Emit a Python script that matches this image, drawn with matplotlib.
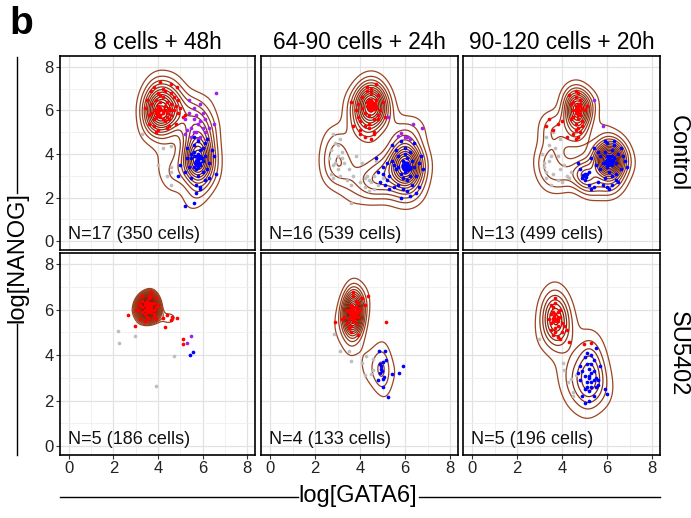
import numpy as np
import matplotlib
matplotlib.use("Agg")
import matplotlib.pyplot as plt
from matplotlib.colors import LinearSegmentedColormap
from matplotlib.lines import Line2D

plt.rcParams['font.family'] = ['Liberation Sans', 'DejaVu Sans']

COL_TITLES = ["8 cells + 48h", "64-90 cells + 24h", "90-120 cells + 20h"]
ROW_LABELS = ["Control", "SU5402"]
N_EMBRYOS = [17, 16, 13, 5, 4, 5]
N_CELLS = [350, 539, 499, 186, 133, 196]
TICKS = [0, 2, 4, 6, 8]

# ---- panel 1: Control, 8 cells + 48h
P1_RED_X = [3.4, 3.6, 3.7, 3.8, 3.9, 3.9, 4.0, 4.0, 4.1, 4.1, 4.2, 4.2, 4.3, 4.3, 4.4, 4.4, 4.5, 4.5,
            4.6, 4.6, 4.7, 4.8, 4.9, 5.0, 5.1, 3.5, 3.7, 3.8, 4.0, 4.2, 4.4, 4.6, 4.8, 3.6, 3.9, 4.1,
            4.3, 4.5, 4.7, 4.9, 3.8, 4.0, 4.2, 4.4, 4.3, 4.1, 4.5, 5.2, 3.9, 4.6, 4.1, 4.6, 4.85,
            3.9, 4.0, 4.1, 3.8, 4.0, 4.2, 3.9, 4.1, 4.0, 3.7, 4.3, 4.0]
P1_RED_Y = [6.1, 5.8, 6.3, 5.6, 6.0, 6.5, 5.9, 6.2, 6.4, 5.7, 6.0, 6.6, 5.5, 6.2, 5.9, 6.4, 6.1, 5.6,
            6.3, 5.8, 6.0, 6.2, 5.9, 6.1, 5.7, 6.5, 6.9, 5.3, 5.1, 7.0, 5.2, 6.8, 5.4, 5.4, 5.0, 6.7,
            6.9, 5.3, 6.6, 6.5, 7.1, 6.8, 5.6, 5.7, 6.0, 6.1, 6.0, 5.8, 5.9, 6.0, 7.3, 7.2, 7.1,
            5.9, 5.8, 6.0, 6.0, 6.1, 5.9, 5.7, 5.8, 5.95, 5.9, 6.0, 6.2]
P1_PUR_X = [5.2, 5.4, 5.5, 5.6, 5.7, 5.8, 5.9, 6.0, 6.1, 6.2, 5.3, 5.5, 5.7, 5.9, 6.1, 6.3, 5.6, 5.8,
            6.0, 5.4, 5.9, 6.5, 6.6, 5.2, 5.6]
P1_PUR_Y = [5.6, 5.9, 5.2, 5.6, 5.0, 5.4, 4.8, 5.2, 5.0, 4.7, 5.1, 4.8, 5.8, 5.5, 5.6, 5.2, 6.1, 4.7,
            5.9, 6.5, 6.3, 5.4, 6.8, 4.9, 5.0]
P1_BLU_X = [5.5, 5.6, 5.7, 5.8, 5.9, 6.0, 5.7, 5.8, 5.9, 5.6, 5.8, 6.0, 6.1, 6.2, 5.4, 5.3, 5.2, 5.0,
            4.9, 5.5, 5.7, 5.9, 6.1, 6.3, 6.4, 6.5, 6.6, 5.6, 5.8, 6.0, 5.7, 5.9, 5.8, 6.2, 5.5, 6.1,
            5.3, 5.6, 6.3, 5.9, 5.2, 5.6, 5.7, 5.8, 5.6, 5.9,
            5.7, 5.8, 5.9, 5.75, 5.85, 5.7, 5.8, 5.65, 5.95, 5.8]
P1_BLU_Y = [3.8, 4.1, 3.6, 3.9, 4.2, 3.7, 3.3, 3.0, 3.5, 4.4, 4.6, 4.3, 3.9, 3.3, 3.4, 3.8, 3.2, 3.5,
            3.0, 2.9, 2.6, 2.5, 2.8, 3.6, 4.2, 3.9, 3.1, 4.8, 4.0, 3.2, 2.2, 2.4, 3.6, 4.7, 4.0, 4.5,
            4.3, 3.4, 2.9, 3.9, 1.6, 1.75, 3.7, 3.5, 3.9, 3.8,
            3.7, 3.8, 3.6, 3.5, 3.9, 3.9, 3.4, 3.6, 3.8, 3.75]
P1_GRY_X = [3.3, 4.2, 4.6, 4.0, 4.6, 4.6, 4.6, 4.4]
P1_GRY_Y = [4.9, 4.3, 4.35, 3.5, 3.4, 3.2, 2.6, 3.0]

# ---- panel 2: Control, 64-90 cells + 24h
P2_RED_X = [4.3, 4.4, 4.5, 4.6, 4.7, 4.5, 4.4, 4.6, 4.3, 4.8, 4.2, 4.1, 4.0, 3.9, 3.8, 3.7, 4.0, 4.2,
            4.4, 4.6, 4.8, 4.9, 5.0, 4.5, 4.7, 4.3, 4.1, 3.9, 4.4, 4.6, 4.5, 4.2, 4.0, 4.8, 5.1, 3.6,
            4.3, 4.5, 4.7, 4.4, 4.5, 4.6, 4.4,
            4.5, 4.6, 4.5, 4.4, 4.55, 4.65, 4.5, 4.45, 4.6, 4.5, 4.4, 4.7]
P2_RED_Y = [6.2, 6.5, 6.0, 6.3, 6.1, 6.8, 5.8, 5.6, 6.4, 6.7, 5.9, 6.1, 5.5, 5.7, 6.0, 5.3, 5.1, 5.3,
            5.2, 5.0, 5.6, 6.0, 6.4, 7.0, 7.2, 7.1, 6.6, 6.3, 5.4, 4.9, 4.7, 4.8, 4.9, 5.8, 5.7, 6.4,
            6.9, 6.3, 6.5, 6.1, 6.2, 6.2, 6.3,
            6.3, 6.2, 6.1, 6.2, 6.4, 6.35, 6.25, 6.0, 6.05, 6.5, 6.4, 6.2]
P2_PUR_X = [5.25, 6.37, 6.73, 5.7, 6.0, 6.2, 5.83, 6.1]
P2_PUR_Y = [5.7, 5.4, 5.2, 4.85, 4.8, 4.7, 4.95, 4.8]
P2_BLU_X = [6.0, 6.1, 6.2, 5.9, 6.0, 6.1, 5.8, 6.3, 6.4, 5.7, 6.0, 6.2, 5.9, 6.1, 6.5, 6.6, 6.7, 5.5,
            5.6, 5.4, 5.3, 5.2, 5.0, 4.9, 4.8, 5.1, 5.3, 5.5, 5.7, 5.9, 6.1, 6.3, 6.5, 6.2, 5.8, 6.0,
            6.4, 5.6, 5.2, 4.7, 5.0, 5.4, 5.8, 6.6, 6.8, 6.0, 6.2, 5.9, 6.1, 5.7, 6.0, 6.1, 5.9,
            6.0, 6.1, 6.05, 5.95, 6.15, 6.0, 6.1, 5.9, 6.2, 6.05, 6.0, 6.1]
P2_BLU_Y = [3.4, 3.6, 3.3, 3.5, 3.2, 3.8, 3.1, 3.7, 3.4, 3.9, 4.0, 4.1, 2.9, 2.8, 3.0, 3.6, 3.9, 3.5,
            4.2, 4.4, 3.0, 2.8, 3.1, 2.7, 3.2, 2.6, 2.4, 2.5, 2.6, 2.4, 2.3, 2.6, 2.2, 2.1, 2.0, 4.3,
            4.5, 3.3, 3.6, 3.8, 3.4, 3.7, 4.6, 2.5, 3.3, 3.5, 3.0, 3.7, 3.3, 3.4, 3.45, 3.5, 3.4,
            3.45, 3.4, 3.55, 3.3, 3.5, 3.6, 3.25, 3.45, 3.4, 3.35, 3.5, 3.6]
P2_GRY_X = [2.6, 2.7, 2.8, 2.9, 3.0, 3.1, 2.7, 2.8, 3.0, 3.2, 2.9, 3.1, 3.3, 3.5, 3.7, 2.8, 3.0, 3.2,
            3.4, 3.6, 4.0, 4.2, 4.4, 4.6, 4.8, 5.0, 4.3, 4.5, 4.1, 4.7, 4.4, 4.2, 4.6, 3.6, 3.8]
P2_GRY_Y = [3.8, 4.2, 3.5, 4.5, 3.9, 4.7, 3.1, 2.9, 3.3, 4.1, 3.6, 3.0, 3.6, 3.3, 3.0, 4.9, 4.4, 3.8,
            2.8, 2.6, 2.7, 2.5, 2.8, 2.4, 2.6, 2.9, 3.0, 2.7, 3.6, 3.7, 2.3, 2.9, 3.0, 1.75, 3.9]

# ---- panel 3: Control, 90-120 cells + 20h
P3_RED_X = [4.6, 4.7, 4.8, 4.5, 4.9, 4.6, 4.7, 4.8, 4.5, 4.4, 4.9, 5.0, 4.6, 4.7, 4.8, 4.5, 4.6, 4.7,
            4.4, 4.3, 4.6, 4.8, 4.7, 4.5, 5.1, 4.7, 4.9, 4.6, 3.3, 3.6, 3.8, 3.4, 4.0, 4.2, 4.7, 4.6,
            4.7, 4.75, 4.65, 4.8, 4.7, 4.6, 4.75, 4.7]
P3_RED_Y = [6.0, 6.2, 5.8, 6.4, 6.1, 6.6, 6.8, 6.5, 5.7, 6.3, 5.5, 6.0, 5.4, 5.2, 5.0, 4.9, 4.7, 4.8,
            5.6, 6.7, 6.9, 6.3, 5.9, 6.0, 6.2, 5.6, 5.3, 5.1, 5.3, 5.1, 5.4, 5.6, 5.5, 4.8, 6.1, 6.2,
            6.0, 5.9, 6.1, 6.0, 5.8, 5.9, 6.2, 6.3]
P3_PUR_X = [5.4, 5.8]
P3_PUR_Y = [6.5, 5.3]
P3_BLU_X = [6.0, 6.1, 6.2, 6.3, 5.9, 6.0, 6.2, 6.4, 6.5, 6.6, 5.8, 5.7, 6.1, 6.3, 6.0, 6.2, 6.4, 6.6,
            6.8, 6.9, 5.6, 5.5, 5.3, 5.2, 5.0, 4.9, 5.1, 5.0, 4.8, 5.2, 5.4, 5.6, 5.8, 6.0, 6.2, 6.4,
            5.9, 6.1, 6.5, 5.7, 5.4, 5.9, 6.3, 4.7, 5.3, 6.7, 6.1, 6.0, 6.2, 5.0,
            6.1, 6.0, 6.2, 6.15, 6.05, 6.1, 5.95, 6.25, 6.1, 6.0, 6.2, 6.05, 6.15, 6.1, 5.9, 6.3,
            6.0, 6.1, 5.0, 5.05, 4.95, 5.0]
P3_BLU_Y = [3.7, 3.9, 3.5, 3.8, 4.1, 3.4, 4.2, 3.6, 4.0, 3.3, 3.6, 3.9, 3.2, 4.4, 4.5, 3.0, 3.1, 4.3,
            3.7, 3.4, 4.1, 3.5, 3.8, 3.2, 3.0, 2.9, 3.1, 2.8, 3.3, 2.6, 2.5, 2.7, 2.6, 2.5, 2.6, 2.8,
            2.9, 2.4, 2.7, 3.3, 4.3, 4.6, 4.6, 3.6, 2.4, 3.9, 3.7, 3.75, 3.65, 3.0,
            3.7, 3.65, 3.75, 3.6, 3.8, 3.55, 3.7, 3.7, 3.85, 3.5, 3.9, 3.7, 3.65, 3.75, 3.6, 3.8,
            3.9, 3.6, 3.0, 2.95, 3.05, 3.1]
P3_GRY_X = [3.1, 3.2, 3.3, 3.4, 3.5, 3.3, 3.2, 3.6, 3.8, 4.0, 4.2, 4.4, 3.4, 3.7, 3.9, 4.1, 3.5, 3.9,
            4.3, 3.6, 3.3, 3.8]
P3_GRY_Y = [4.0, 3.6, 3.2, 4.4, 3.9, 2.9, 3.4, 3.1, 2.8, 2.7, 3.0, 3.2, 3.7, 4.3, 4.7, 3.5, 2.6, 3.3,
            2.9, 5.0, 4.8, 3.9]

# ---- panel 4: SU5402, 8 cells + 48h
P4_RED_X = [3.3, 3.4, 3.5, 3.6, 3.7, 3.8, 3.5, 3.6, 3.7, 3.4, 3.5, 3.6, 3.7, 3.8, 3.9, 3.3, 3.5, 3.6,
            3.7, 3.4, 3.6, 3.8, 3.5, 3.7, 3.6, 3.2, 3.9, 4.0, 3.1, 3.5, 3.6, 3.7, 3.3, 3.8, 3.6, 3.5,
            3.4, 3.7, 3.6, 3.5, 3.0, 3.2, 3.4, 3.9, 3.1, 3.3,
            2.63, 2.95, 4.24, 4.42, 4.6, 4.87, 4.64, 4.33, 5.13, 5.13]
P4_RED_Y = [6.1, 6.3, 6.0, 6.2, 6.1, 6.0, 6.4, 5.9, 6.3, 5.8, 6.2, 6.5, 5.9, 6.3, 6.1, 6.4, 5.7, 6.0,
            6.6, 6.0, 6.1, 5.8, 6.1, 6.2, 6.3, 6.2, 6.5, 6.2, 6.0, 5.9, 6.6, 6.8, 5.9, 5.7, 5.6, 6.1,
            6.2, 6.0, 6.0, 6.3, 6.0, 5.6, 5.5, 5.6, 6.3, 6.6,
            5.75, 5.3, 5.65, 5.75, 5.55, 5.65, 5.7, 5.25, 4.7, 4.5]
P4_PUR_X = [5.5, 5.3]
P4_PUR_Y = [4.85, 4.55]
P4_BLU_X = [5.58, 5.45]
P4_BLU_Y = [4.15, 4.0]
P4_GRY_X = [2.2, 2.25, 2.95, 4.73, 3.9]
P4_GRY_Y = [5.05, 4.55, 4.85, 3.95, 2.65]

# ---- panel 5: SU5402, 64-90 cells + 24h
P5_RED_X = [3.6, 3.7, 3.8, 3.5, 3.6, 3.7, 3.9, 3.4, 3.6, 3.8, 3.7, 3.5, 3.9, 4.0, 3.3, 3.6, 3.8, 3.7,
            3.5, 4.1, 3.4, 3.6, 3.8, 3.9, 3.7, 3.2, 4.2, 3.6, 4.35, 2.87, 3.9, 5.16,
            3.7, 3.65, 3.75, 3.6, 3.7, 3.8, 3.65, 3.7, 3.75, 3.6, 3.7, 3.68,
            3.7, 3.6, 3.8, 3.65, 3.75, 3.7, 3.55, 3.85, 3.7, 3.65, 3.75, 3.7, 3.6, 3.8, 3.7, 3.68]
P5_RED_Y = [5.8, 5.9, 6.1, 5.6, 6.2, 5.5, 5.7, 6.0, 5.3, 6.4, 6.6, 5.2, 6.3, 6.0, 5.7, 5.0, 5.4, 6.8,
            5.9, 6.5, 5.4, 6.1, 5.8, 5.9, 5.6, 5.6, 6.2, 5.8, 6.6, 5.45, 4.9, 5.45,
            5.8, 5.75, 5.9, 5.85, 5.7, 5.8, 6.0, 5.95, 5.65, 5.7, 6.1, 5.5,
            5.85, 5.8, 5.9, 5.7, 5.75, 6.0, 5.9, 6.05, 5.6, 6.15, 5.8, 5.95, 6.0, 5.7, 5.65, 5.85]
P5_BLU_X = [4.83, 5.1, 5.17, 4.87, 4.92, 4.98, 4.9, 5.07, 5.02, 4.8, 5.04, 5.25, 5.4, 5.73, 5.89, 4.95, 5.0]
P5_BLU_Y = [4.19, 4.19, 3.78, 3.62, 3.53, 3.29, 3.23, 3.05, 2.95, 2.9, 2.6, 2.16, 3.17, 3.2, 3.5, 3.4, 3.7]
P5_GRY_X = [2.86, 3.11, 3.53, 3.6, 4.25, 4.1, 4.57, 4.57, 4.2, 4.5]
P5_GRY_Y = [4.93, 4.18, 4.18, 3.75, 3.95, 3.66, 3.85, 3.34, 3.12, 3.16]

# ---- panel 6: SU5402, 90-120 cells + 20h
P6_RED_X = [3.6, 3.7, 3.8, 3.5, 3.6, 3.7, 3.9, 3.4, 3.6, 3.8, 3.7, 3.5, 3.9, 4.0, 3.6, 3.8, 3.7, 3.5,
            4.1, 3.7, 3.6, 3.8, 4.2, 3.9, 4.3, 3.5, 4.96, 5.29, 4.0, 3.8, 3.7, 3.65, 3.75, 3.7, 3.6, 3.8]
P6_RED_Y = [5.6, 5.8, 5.5, 5.4, 5.9, 5.2, 5.7, 5.6, 6.1, 5.3, 6.3, 5.1, 6.0, 5.4, 5.5, 5.9, 5.0, 5.8,
            5.3, 6.5, 4.9, 4.8, 5.1, 4.7, 4.6, 6.2, 4.5, 4.53, 5.0, 5.6, 5.6, 5.7, 5.5, 5.8, 5.6, 5.7]
P6_BLU_X = [5.2, 5.3, 5.1, 5.0, 5.4, 5.2, 5.3, 5.1, 4.9, 5.5, 5.6, 5.0, 5.2, 5.4, 4.8, 5.3, 5.1, 5.5,
            5.7, 5.9, 6.0, 4.9, 5.2, 5.4, 5.0, 5.3, 4.7, 5.6, 5.1, 5.3, 5.2, 5.4, 5.5, 4.8, 5.0]
P6_BLU_Y = [3.0, 3.2, 2.8, 3.1, 2.9, 3.4, 2.6, 3.6, 3.3, 3.0, 2.7, 2.5, 2.4, 3.8, 2.9, 4.0, 4.1, 4.3,
            3.5, 2.5, 2.3, 2.2, 2.0, 2.2, 3.9, 3.6, 3.2, 2.9, 2.6, 2.8, 3.1, 3.3, 2.6, 3.5, 1.9]
P6_GRY_X = [2.98, 4.03, 4.1, 4.25, 4.47, 4.4, 4.62, 4.47]
P6_GRY_Y = [4.7, 3.64, 3.34, 2.82, 2.38, 2.97, 3.12, 2.19]

PANELS = [
    dict(grey=(P1_GRY_X, P1_GRY_Y), red=(P1_RED_X, P1_RED_Y), purple=(P1_PUR_X, P1_PUR_Y), blue=(P1_BLU_X, P1_BLU_Y)),
    dict(grey=(P2_GRY_X, P2_GRY_Y), red=(P2_RED_X, P2_RED_Y), purple=(P2_PUR_X, P2_PUR_Y), blue=(P2_BLU_X, P2_BLU_Y)),
    dict(grey=(P3_GRY_X, P3_GRY_Y), red=(P3_RED_X, P3_RED_Y), purple=(P3_PUR_X, P3_PUR_Y), blue=(P3_BLU_X, P3_BLU_Y)),
    dict(grey=(P4_GRY_X, P4_GRY_Y), red=(P4_RED_X, P4_RED_Y), purple=(P4_PUR_X, P4_PUR_Y), blue=(P4_BLU_X, P4_BLU_Y)),
    dict(grey=(P5_GRY_X, P5_GRY_Y), red=(P5_RED_X, P5_RED_Y), blue=(P5_BLU_X, P5_BLU_Y)),
    dict(grey=(P6_GRY_X, P6_GRY_Y), red=(P6_RED_X, P6_RED_Y), blue=(P6_BLU_X, P6_BLU_Y)),
]

POINT_COLORS = {"grey": "#BEBEBE", "red": "#FF0000", "purple": "#A020F0", "blue": "#0000FF"}
# contour styling per panel
N_LEVELS = [12, 13, 15, 30, 13, 7]
LEVEL_START = [0.08, 0.07, 0.06, 0.14, 0.08, 0.1]
BW_SCALE = [1.3, 1.3, 1.2, 1.7, 1.3, 1.3]
XLIM = (-0.4, 8.35)
YLIM = (-0.4, 8.5)

contour_cmap = LinearSegmentedColormap.from_list("brown", ["#9C4522", "#6A1500"])


def bandwidth(v, n):
    v = np.asarray(v, dtype=float)
    sd = v.std(ddof=1)
    iqr = np.subtract(*np.percentile(v, [75, 25])) / 1.34
    h = min(sd, iqr) if iqr > 0 else sd
    return 1.06 * h * n ** (-0.2)


def kde(xs, ys, n_cells, scale):
    hx, hy = scale * bandwidth(xs, n_cells), scale * bandwidth(ys, n_cells)
    gx = np.linspace(XLIM[0], XLIM[1], 240)
    gy = np.linspace(YLIM[0], YLIM[1], 240)
    kx = np.exp(-0.5 * ((gx[None, :] - xs[:, None]) / hx) ** 2)
    ky = np.exp(-0.5 * ((gy[None, :] - ys[:, None]) / hy) ** 2)
    z = ky.T @ kx / (2 * np.pi * hx * hy * len(xs))
    return gx, gy, z


W, H = 691, 518
fig = plt.figure(figsize=(W / 100, H / 100), dpi=100)
cols = [(60, 255), (261, 458), (463, 660)]
rows = [(56, 250), (253, 455)]

for i, pdata in enumerate(PANELS):
    r, c = divmod(i, 3)
    x0, x1 = cols[c]
    y0, y1 = rows[r]
    ax = fig.add_axes([x0 / W, 1 - y1 / H, (x1 - x0) / W, (y1 - y0) / H])
    ax.set_xlim(*XLIM)
    ax.set_ylim(*YLIM)
    ax.set_xticks(TICKS)
    ax.set_yticks(TICKS)
    ax.set_xticks([1, 3, 5, 7], minor=True)
    ax.set_yticks([1, 3, 5, 7], minor=True)
    ax.grid(True, which="major", color="#E2E2E2", lw=0.9, zorder=0)
    ax.grid(True, which="minor", color="#EFEFEF", lw=0.6, zorder=0)
    ax.set_axisbelow(True)
    ax.tick_params(which="minor", length=0)
    ax.tick_params(which="major", length=3, width=0.8, labelsize=12, pad=1.5, colors="#333333",
                   labelcolor="#222222")
    if c != 0:
        ax.tick_params(axis="y", left=False, labelleft=False)
    if r != 1:
        ax.tick_params(axis="x", bottom=False, labelbottom=False)
    for s in ax.spines.values():
        s.set_linewidth(1.2)
        s.set_color("black")

    all_x = np.concatenate([np.asarray(v[0], float) for v in pdata.values()])
    all_y = np.concatenate([np.asarray(v[1], float) for v in pdata.values()])
    gx, gy, z = kde(all_x, all_y, N_CELLS[i], BW_SCALE[i])
    levels = z.max() * np.linspace(LEVEL_START[i], 0.96, N_LEVELS[i])
    ax.contour(gx, gy, z, levels=levels, cmap=contour_cmap, linewidths=0.9, zorder=2)

    for key in ["grey", "red", "purple", "blue"]:
        if key in pdata:
            xs, ys = pdata[key]
            ax.scatter(xs, ys, s=7, c=POINT_COLORS[key], linewidths=0, zorder=3)

    ax.text(0.04, 0.035, f"N={N_EMBRYOS[i]} ({N_CELLS[i]} cells)", transform=ax.transAxes,
            fontsize=13, ha="left", va="bottom", color="#111111")

# column titles
for c, t in enumerate(COL_TITLES):
    x0, x1 = cols[c]
    fig.text((x0 + x1) / 2 / W, 1 - 42 / H, t, ha="center", va="center", fontsize=16.3)

# row strip labels
for r, t in enumerate(ROW_LABELS):
    y0, y1 = rows[r]
    fig.text(678 / W, 1 - (y0 + y1) / 2 / H, t, ha="center", va="center", rotation=270, fontsize=17)

# panel letter
fig.text(9 / W, 1 - 24 / H, "b", fontsize=28, fontweight="bold", ha="left", va="center")

# axis titles with flanking lines
fig.text(358 / W, 1 - 496 / H, "log[GATA6]", ha="center", va="center", fontsize=17)
fig.add_artist(Line2D([60 / W, 298 / W], [1 - 497 / H] * 2, color="black", lw=1.0))
fig.add_artist(Line2D([419 / W, 660 / W], [1 - 497 / H] * 2, color="black", lw=1.0))

fig.text(17 / W, 1 - 258 / H, "log[NANOG]", ha="center", va="center", rotation=90, fontsize=17)
fig.add_artist(Line2D([17 / W] * 2, [1 - 57 / H, 1 - 193 / H], color="black", lw=1.0))
fig.add_artist(Line2D([17 / W] * 2, [1 - 324 / H, 1 - 455 / H], color="black", lw=1.0))

fig.savefig("out.png", dpi=100)
